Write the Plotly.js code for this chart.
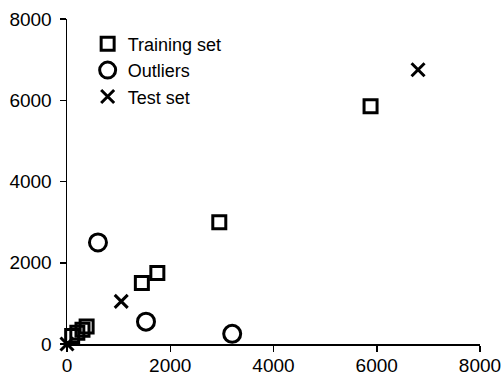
<!DOCTYPE html>
<html><head><meta charset="utf-8">
<script src="https://cdn.plot.ly/plotly-3.0.1.min.js"></script>
<style>body{margin:0;background:#fff}#c{width:503px;height:382px}</style>
</head><body><div id="c"></div>
<script>
const trainX = [100, 200, 300, 380, 1450, 1750, 2950, 5880];
const trainY = [200, 280, 350, 430, 1500, 1750, 3000, 5850];
const outX = [600, 1530, 3200];
const outY = [2500, 550, 250];
const testX = [0, 1050, 6800];
const testY = [0, 1050, 6750];
const xTicks = [0, 2000, 4000, 6000, 8000];
const yTicks = [0, 2000, 4000, 6000, 8000];

const fnt = {family: 'Liberation Sans, Arial, sans-serif', size: 19, color: '#000'};
const legFnt = {family: 'Liberation Sans, Arial, sans-serif', size: 18, color: '#000'};
const traces = [
  {x: trainX, y: trainY, name: 'Training set', mode: 'markers', type: 'scatter', cliponaxis: false,
   marker: {symbol: 'square-open', size: 13, color: '#000', line: {width: 3, color: '#000'}}},
  {x: outX, y: outY, name: 'Outliers', mode: 'markers', type: 'scatter', cliponaxis: false,
   marker: {symbol: 'circle-open', size: 17, color: '#000', line: {width: 3, color: '#000'}}},
  {x: testX, y: testY, name: 'Test set', mode: 'markers', type: 'scatter', cliponaxis: false,
   marker: {symbol: 'x-thin-open', size: 13, color: '#000', line: {width: 3, color: '#000'}}}
];
const layout = {
  width: 503, height: 382,
  margin: {l: 67, r: 23, t: 19, b: 38},
  paper_bgcolor: '#fff', plot_bgcolor: '#fff',
  font: fnt,
  showlegend: true,
  legend: {x: 0.05, y: 0.98, xanchor: 'left', yanchor: 'top', bgcolor: 'rgba(0,0,0,0)', font: legFnt, itemwidth: 30},
  xaxis: {range: [0, 8000], tickvals: xTicks, ticktext: xTicks.map(String), showgrid: false, zeroline: false,
          showline: true, linecolor: '#000', linewidth: 1.5, ticks: 'outside', ticklen: 6, tickcolor: '#000', tickwidth: 1.5,
          ticklabelstandoff: -2, tickfont: fnt},
  yaxis: {range: [0, 8000], tickvals: yTicks, ticktext: yTicks.map(String), showgrid: false, zeroline: false,
          showline: true, linecolor: '#000', linewidth: 1.5, ticks: 'outside', ticklen: 6, tickcolor: '#000', tickwidth: 1.5,
          ticklabelstandoff: 4, tickfont: fnt}
};
Plotly.newPlot('c', traces, layout, {displayModeBar: false, staticPlot: true});
</script></body></html>
